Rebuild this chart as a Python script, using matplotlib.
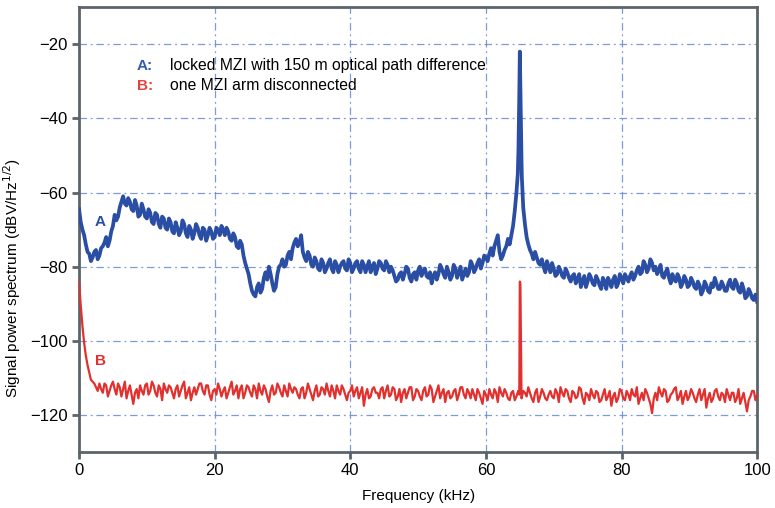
import numpy as np
import matplotlib.pyplot as plt

# ---- data -----------------------------------------------------------------
# frequency grids (kHz): main points every 0.5 kHz, in-between points offset by 0.25
freq_khz = np.arange(0, 100.5, 0.5)
freq_mid_khz = np.arange(0.25, 100, 0.5)

# trace A: locked MZI, 150 m path difference (dBV/Hz^1/2)
trace_a = [
    -64.5, -70, -74, -76.5, -77.5, -75.5, -77, -74.5, -72, -73,
    -69, -67.5, -64, -61, -63.5, -62.5, -65, -63.5, -66, -64.5,
    -67, -65.5, -68.5, -66, -69.5, -67, -70, -68, -71, -69.5,
    -70.5, -68.5, -72, -70, -71, -69.5, -72.5, -70, -71.5, -70.5,
    -72, -70, -69, -71.5, -70.5, -73, -72, -75, -74, -79,
    -82, -86.5, -88, -84.5, -86, -81.5, -80, -84.5, -85.5, -80,
    -78, -79.5, -76, -75, -72.5, -73.5, -76, -78.5, -77, -80,
    -78.5, -81, -79, -80.5, -78, -81.5, -79.5, -80, -78.5, -81,
    -79, -80.5, -78.5, -81.5, -79.5, -80, -81.5, -79, -80.5, -79,
    -81, -79.5, -80, -82.5, -83.5, -81.5, -82, -80.5, -84, -81.5,
    -81, -82.5, -80.5, -83, -84.5, -81.5, -82, -80.5, -83, -81.5,
    -82.5, -80.5, -81.5, -83.5, -80.5, -81.5, -79.5, -80.5, -78, -79,
    -77.5, -76.5, -77, -73, -76, -77, -74.5, -74, -69, -60,
    -22, -64, -72, -75.5, -78, -77.5, -79.5, -80, -78.5, -81.5,
    -80.5, -82, -81, -83, -81.5, -84, -82, -83.5, -85.5, -82.5,
    -84, -83, -85, -83.5, -86, -84, -83, -85.5, -82.5, -84.5,
    -83, -82, -84, -81.5, -82.5, -80, -81.5, -79.5, -80.5, -79,
    -80, -81, -82.5, -81.5, -83, -82, -84, -83, -84.5, -83.5,
    -85, -84, -86, -85, -86.5, -85, -87, -85.5, -84.5, -86,
    -85, -86.5, -83.5, -86, -84.5, -87, -86, -88, -87, -89,
    -89.5,
]
trace_a_mid = [
    -68, -71.5, -76, -78.5, -76, -78, -75, -73.5, -74.5, -70.5,
    -66, -66.5, -62.5, -63, -61.5, -64.5, -62, -66.5, -63, -66.5,
    -64.5, -68, -65.5, -68.5, -66.5, -69.5, -67, -70.5, -68, -71.5,
    -67.5, -71, -69, -72.5, -68.5, -71.5, -69.5, -73, -69.5, -72.5,
    -69.5, -71.5, -70, -69.5, -72.5, -71, -74.5, -73, -77, -80.5,
    -84.5, -87.5, -85.5, -87, -83, -83.5, -82, -86.5, -82, -79.5,
    -80, -77, -78, -73.5, -74.5, -71.5, -77.5, -76, -79.5, -77.5,
    -80.5, -78, -81.5, -79, -80.5, -78.5, -81.5, -79, -80.5, -78,
    -81.5, -79, -80.5, -78.5, -81.5, -78.5, -80, -82, -78.5, -80.5,
    -78.5, -81.5, -81, -84, -82, -83.5, -80, -83, -82, -83.5,
    -80, -81, -82.5, -81.5, -82.5, -83.5, -79.5, -82, -80, -83.5,
    -79.5, -83, -80, -82, -82.5, -78.5, -81.5, -79, -80.5, -77,
    -78.5, -75, -74.5, -71.5, -78, -75.5, -72.5, -71.5, -65, -51.5,
    -51.5, -68.5, -74, -76.5, -76, -79, -78, -81.5, -80, -79,
    -82.5, -80, -82.5, -80.5, -83, -82.5, -84.5, -82, -84, -85.5,
    -82, -84.5, -82.5, -85, -83, -86, -84, -83.5, -85.5, -82,
    -84.5, -83, -82.5, -83.5, -81, -82, -78.5, -81.5, -78, -81,
    -82, -79.5, -83, -80.5, -84.5, -83.5, -82, -85.5, -82.5, -85.5,
    -83, -85.5, -84, -87.5, -84, -86.5, -84.5, -83, -86, -84,
    -86.5, -84.5, -85.5, -83.5, -86.5, -84.5, -88.5, -86, -88.5, -87.5,
]
# extra samples on the 65 kHz carrier peak
peak_a_khz = [64.7, 64.8, 64.9, 65.1, 65.2, 65.3]
peak_a_db = [-55, -48, -36, -34, -47, -56]

# trace B: one MZI arm disconnected
trace_b = [
    -84, -96, -104, -108.5, -111, -112.5, -111.5, -114, -112, -113.5,
    -111, -114.5, -112.5, -113, -115.5, -112, -117, -113, -112, -114.5,
    -111.5, -113.5, -112, -115, -113, -111.5, -114, -112.5, -115.5, -112,
    -113.5, -111, -114, -116, -112.5, -113, -111.5, -114.5, -112, -116,
    -113, -111.5, -115, -112.5, -114, -111, -113.5, -115.5, -112, -114,
    -112.5, -115, -113, -111.5, -114.5, -113, -116.5, -112, -114, -112.5,
    -115, -113.5, -111.5, -114, -113, -115.5, -112.5, -114, -113, -116,
    -112, -114.5, -113, -111.5, -115, -113.5, -112, -114.5, -113, -116,
    -113.5, -115, -112.5, -114, -117.5, -113, -115, -112.5, -114, -113,
    -115.5, -112, -114.5, -113, -115, -116.5, -113, -114, -112.5, -115,
    -113.5, -116, -112.5, -114.5, -113, -115, -112, -114, -116.5, -113.5,
    -115, -113, -114.5, -112.5, -115.5, -114, -113, -116, -114, -117,
    -114.5, -113, -115.5, -114, -112.5, -115, -114, -116, -113.5, -115,
    -84, -113.5, -115, -114, -116.5, -113, -115, -114, -116, -113.5,
    -115.5, -114, -112.5, -115, -113.5, -116.5, -114, -115, -113, -117,
    -114.5, -113, -115.5, -114, -116, -113, -115, -117.5, -114, -115.5,
    -113.5, -116, -114.5, -113, -115, -117, -114, -113, -115.5, -119.5,
    -114, -112.5, -115, -113.5, -116, -114, -112.5, -115, -117, -113.5,
    -115, -114, -116.5, -113, -114.5, -118, -114, -115.5, -113, -116,
    -114.5, -113, -116, -114, -115.5, -117, -114, -119, -115, -113.5,
    -114.5,
]
trace_b_mid = [
    -90.5, -100.5, -106.5, -110.5, -111.5, -113.5, -113, -111.5, -115, -112,
    -113, -111.5, -115, -111, -113.5, -114.5, -114, -115.5, -113.5, -112,
    -114.5, -111, -114, -112, -116, -113, -112, -114, -113, -115,
    -112, -115.5, -112.5, -114, -114.5, -111.5, -113.5, -112, -114.5, -113.5,
    -114.5, -113, -113.5, -115.5, -112.5, -114.5, -112, -113, -115.5, -112,
    -114, -112, -115.5, -113.5, -112, -115, -113.5, -114.5, -111.5, -114,
    -112, -115, -113, -112.5, -114.5, -113, -115.5, -111.5, -114.5, -113.5,
    -115, -112.5, -114.5, -113.5, -112, -115.5, -113.5, -112, -114.5, -114,
    -112, -113.5, -115.5, -112.5, -114.5, -115.5, -113, -114, -115.5, -112.5,
    -113.5, -115, -112.5, -116, -113, -114, -115.5, -112.5, -116, -113,
    -115, -113.5, -115, -112, -116.5, -113.5, -115.5, -113, -114, -115.5,
    -113.5, -116, -112.5, -114.5, -113, -115.5, -114.5, -113, -115.5, -113.5,
    -116, -114.5, -113, -116.5, -114, -113, -115.5, -114, -116, -113.5,
    -115.5, -114, -112.5, -115.5, -114, -116.5, -113, -115.5, -114.5, -115,
    -113, -116.5, -114, -113, -115.5, -113.5, -115.5, -112.5, -115.5, -114,
    -116, -114.5, -113.5, -116.5, -114.5, -116, -113.5, -115, -116.5, -113,
    -115.5, -113.5, -116, -114.5, -112.5, -115.5, -116, -114, -117, -115.5,
    -116, -114, -113, -116.5, -114.5, -113, -116, -113.5, -115, -116,
    -113, -115.5, -114.5, -116, -113, -115.5, -116.5, -113.5, -115, -114,
    -116.5, -114.5, -114, -116.5, -113, -115.5, -116.5, -116, -113.5, -116,
]
peak_b_khz = [64.92, 65.08]
peak_b_db = [-114.5, -84.5]


def merge(*pairs):
    f_all = np.concatenate([np.asarray(f, float) for f, _ in pairs])
    v_all = np.concatenate([np.asarray(v, float) for _, v in pairs])
    order = np.argsort(f_all, kind="stable")
    return f_all[order], v_all[order]


fa, va = merge((freq_khz, trace_a), (freq_mid_khz, trace_a_mid), (peak_a_khz, peak_a_db))
fb, vb = merge((freq_khz, trace_b), (freq_mid_khz, trace_b_mid), (peak_b_khz, peak_b_db))

# ---- plot -----------------------------------------------------------------
plt.rcParams['font.family'] = ['Liberation Sans', 'DejaVu Sans']

blue = '#2b4ea5'
red = '#e2302e'
spine_col = '#5b6569'

fig = plt.figure(figsize=(7.75, 5.08), dpi=100)
ax = fig.add_axes([0.102, 0.110, 0.875, 0.876])

ax.plot(fb, vb, color=red, lw=1.6, zorder=3)
ax.plot(fa, va, color=blue, lw=2.7, zorder=4)

ax.set_xlim(0, 100)
ax.set_ylim(-130, -10)
ax.set_xticks([0, 20, 40, 60, 80, 100])
ax.set_yticks([-20, -40, -60, -80, -100, -120])

ax.grid(True, color='#6f8fd6', lw=0.9, linestyle=(0, (6, 3, 1.5, 3)), alpha=0.9)
for s in ax.spines.values():
    s.set_color(spine_col)
    s.set_linewidth(2)
ax.tick_params(direction='out', length=5, width=2, color=spine_col,
               labelsize=12, pad=3)

ax.set_xlabel('Frequency (kHz)', fontsize=11, labelpad=8)
ax.set_ylabel('Signal power spectrum (dBV/Hz$^{1/2}$)', fontsize=11)
ax.yaxis.set_label_coords(-0.083, 0.39)

# legend lines
ax.text(8.5, -25.8, 'A:', color='#2f5cb4', fontsize=11, fontweight='bold', va='center')
ax.text(13.4, -25.8, 'locked MZI with 150 m optical path difference', fontsize=11.3, va='center')
ax.text(8.5, -31.2, 'B:', color='#e8403c', fontsize=11, fontweight='bold', va='center')
ax.text(13.4, -31.2, 'one MZI arm disconnected', fontsize=11.3, va='center')

# trace labels
ax.text(3.1, -67.9, 'A', color=blue, fontsize=11, fontweight='bold', ha='center', va='center')
ax.text(3.2, -105.3, 'B', color=red, fontsize=11, fontweight='bold', ha='center', va='center')

fig.savefig('out.png', dpi=100)
